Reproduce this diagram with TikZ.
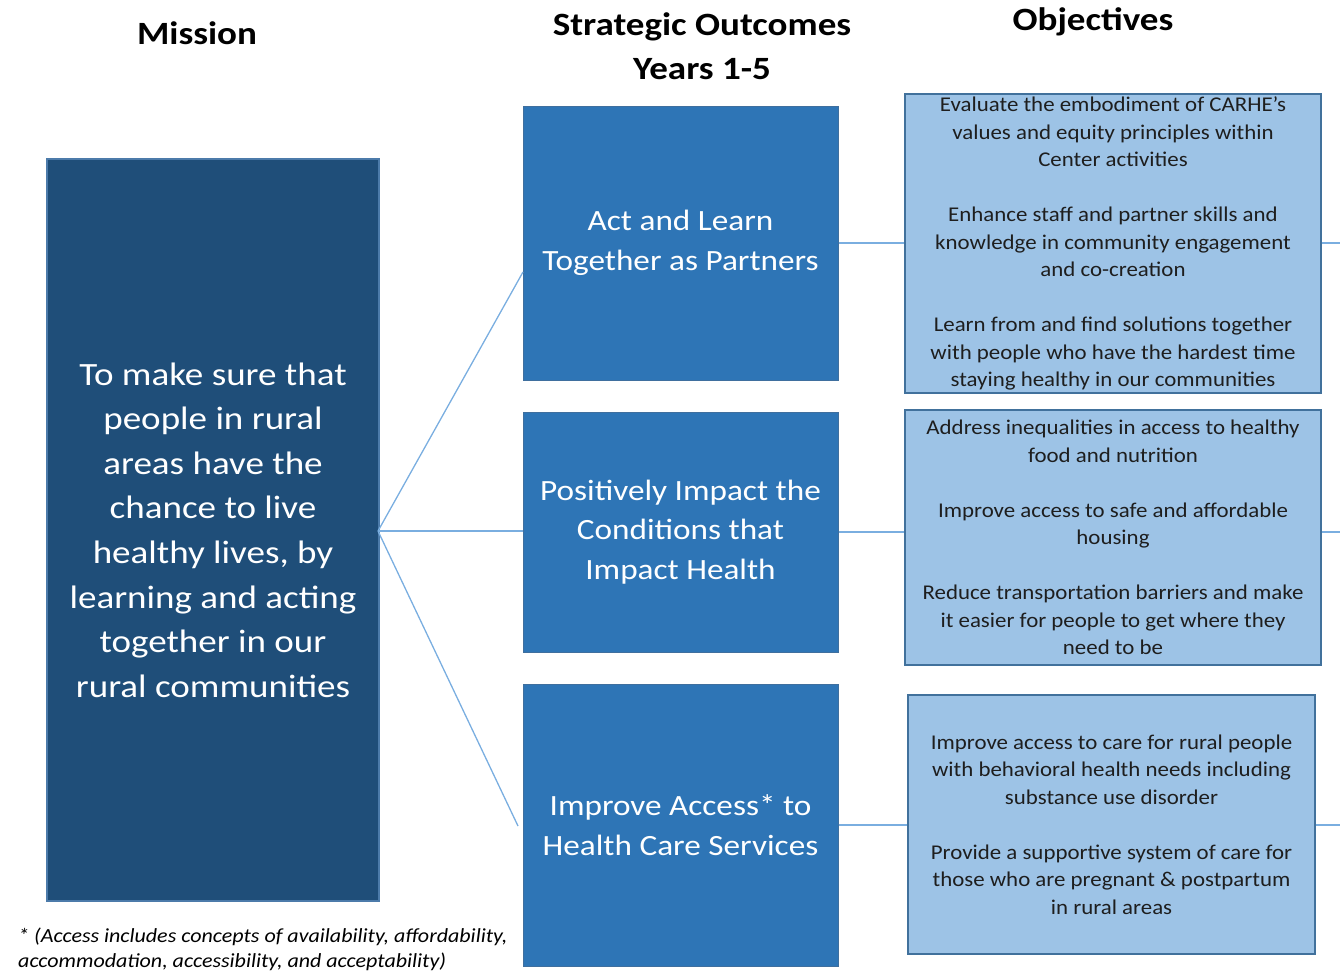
\documentclass[tikz,border=0pt]{standalone}
\usepackage{fontspec}
\setmainfont{Carlito}
% slightly widened faces for each text role
\newfontfamily\headfont{Carlito}[FakeStretch=1.14]
\newfontfamily\missionfont{Carlito}[FakeStretch=1.14]
\newfontfamily\outfont{Carlito}[FakeStretch=1.13]
\newfontfamily\objfont{Carlito}[FakeStretch=1.09]
\newfontfamily\notefont{Carlito}[FakeStretch=1.10]
\definecolor{missionfill}{HTML}{1F4E79}
\definecolor{missionedge}{HTML}{4C7BAA}
\definecolor{outfill}{HTML}{2E75B6}
\definecolor{outedge}{HTML}{3F6F9E}
\definecolor{objfill}{HTML}{9DC3E6}
\definecolor{objedge}{HTML}{41719C}
\definecolor{objtext}{HTML}{1E1E1E}
\definecolor{linkline}{HTML}{7AAEE0}
\begin{document}
\begin{tikzpicture}[x=1pt,y=-1pt,
  header/.style={font=\headfont\bfseries\fontsize{32.5}{44}\selectfont, align=center, text=black, inner sep=0pt},
  missionbox/.style={draw=missionedge, line width=2pt, fill=missionfill, text=white, align=center,
    font=\missionfont\fontsize{32.5}{44.6}\selectfont, minimum width=332pt, minimum height=742pt, inner sep=0pt},
  outbox/.style={draw=outedge, line width=1pt, fill=outfill, text=white, align=center,
    font=\outfont\fontsize{29.4}{39.5}\selectfont, minimum width=315pt, inner sep=0pt},
  objbox/.style={draw=objedge, line width=2pt, fill=objfill, text=objtext, align=center,
    font=\objfont\fontsize{21}{27.5}\selectfont, inner sep=0pt},
  link/.style={draw=linkline, line width=1.3pt},
  note/.style={font=\notefont\itshape\fontsize{20}{25}\selectfont, align=left, inner sep=0pt, text=black}
]
\useasboundingbox (0,0) rectangle (1340,970);

% column headings
\node[header] (hmission) at (197,33) {Mission};
\node[header] (houtcome) at (702,46) {Strategic Outcomes\\Years 1-5};
\node[header] (hobj) at (1093,22) {Objectives};

% mission
\node[missionbox] (mission) at (213,530) {To make sure that\\people in rural\\areas have the\\chance to live\\healthy lives, by\\learning and acting\\together in our\\rural communities};

% strategic outcomes
\node[outbox, minimum height=274pt] (out1) at (680.5,243) {Act and Learn\\Together as Partners};
\node[outbox, minimum height=240pt] (out2) at (680.5,532) {Positively Impact the\\Conditions that\\Impact Health};
\node[outbox, minimum height=282pt] (out3) at (680.5,825) {Improve Access* to\\Health Care Services};

% objectives
\node[objbox, minimum width=416pt, minimum height=299pt] (obj1) at (1113,243.5)
  {Evaluate the embodiment of CARHE’s\\values and equity principles within\\Center activities\\[27.5pt]
   Enhance staff and partner skills and\\knowledge in community engagement\\and co-creation\\[27.5pt]
   Learn from and find solutions together\\with people who have the hardest time\\staying healthy in our communities};
\node[objbox, minimum width=416pt, minimum height=255pt] (obj2) at (1113,537.5)
  {Address inequalities in access to healthy\\food and nutrition\\[27.5pt]
   Improve access to safe and affordable\\housing\\[27.5pt]
   Reduce transportation barriers and make\\it easier for people to get where they\\need to be};
\node[objbox, minimum width=407pt, minimum height=259pt] (obj3) at (1111.5,824.5)
  {Improve access to care for rural people\\with behavioral health needs including\\substance use disorder\\[27.5pt]
   Provide a supportive system of care for\\those who are pregnant \& postpartum\\in rural areas};

% connector end points
\coordinate (hub) at (378,531);
\coordinate (in1) at (523,272);
\coordinate (in3) at (518,826);
\coordinate (edge1) at (1340,243);
\coordinate (edge2) at (1340,532);
\coordinate (edge3) at (1340,825);

% mission to outcomes
\draw[link] (hub) -- (in1);
\draw[link] (hub) -- (out2.west |- hub);
\draw[link] (hub) -- (in3);

% outcomes to objectives
\draw[link] (out1.east) -- (obj1.west |- out1.east);
\draw[link] (out2.east) -- (obj2.west |- out2.east);
\draw[link] (out3.east) -- (obj3.west |- out3.east);

% objectives onward
\draw[link] (obj1.east |- edge1) -- (edge1);
\draw[link] (obj2.east |- edge2) -- (edge2);
\draw[link] (obj3.east |- edge3) -- (edge3);

% footnote (base anchor sits on the last line)
\node[note, anchor=base west] (fnote) at (18,967)
  {* (Access includes concepts of availability, affordability,\\accommodation, accessibility, and acceptability)};
\end{tikzpicture}
\end{document}
